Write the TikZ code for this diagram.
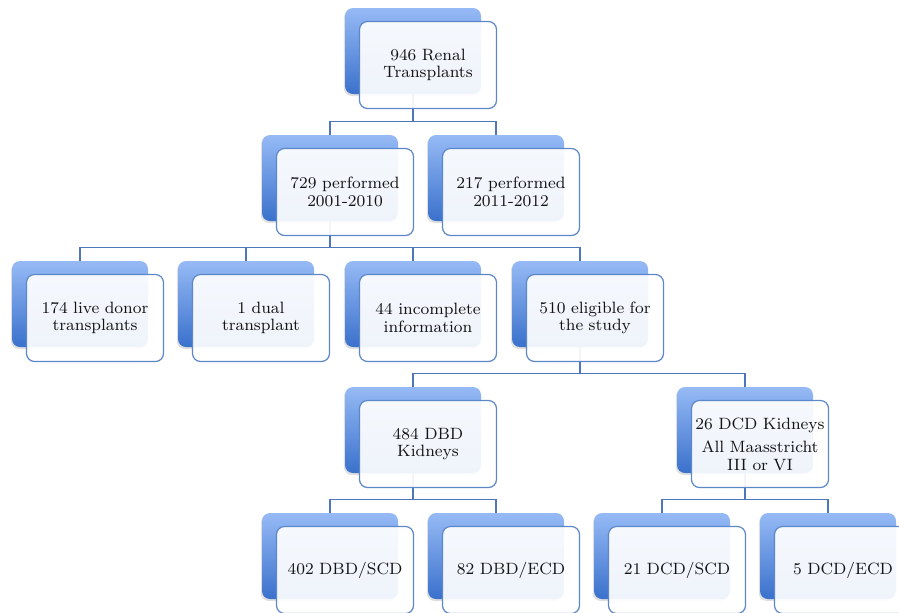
\documentclass[tikz,border=0pt]{standalone}
\usepackage[]{tikz}
\usepackage[]{xcolor}
\usetikzlibrary{shadows}
\definecolor{boxtop}{RGB}{150,186,245}
\definecolor{boxbottom}{RGB}{58,113,204}
\definecolor{boxline}{RGB}{92,135,200}
\definecolor{linkblue}{RGB}{78,118,186}
\definecolor{textgray}{RGB}{20,20,20}
\tikzset{backbox/.style = {rounded corners=4pt, top color=boxtop, bottom color=boxbottom, minimum width=68pt, minimum height=43pt, inner sep=0pt, drop shadow={opacity=0.25, shadow xshift=-0.6pt, shadow yshift=-1pt}}}
\tikzset{frontbox/.style = {rounded corners=4pt, draw=boxline, line width=0.6pt, fill=white, fill opacity=0.92, text opacity=1, text=textgray, minimum width=68.5pt, minimum height=43.5pt, text width=68pt, align=center, inner sep=0pt, font=\fontsize{8.2}{8.8}\selectfont}}
\tikzset{link/.style = {draw=linkblue, line width=0.6pt}}

\begin{document}
\begin{tikzpicture}[x=0.5pt,y=-0.5pt]
        \useasboundingbox (0,0) rectangle (899,612);
        % blue boxes behind
        \foreach \n/\x/\y in {renal/413/51, early/330/178, late/496/178,
                live/80/304, dual/246/304, incomplete/413/304, eligible/580/304,
                dbd/413/430, dcd/745/430,
                dbdscd/330/556, dbdecd/496/556, dcdscd/662/556, dcdecd/828/556}
            \node[backbox] (\n) at (\x,\y) {};
        % connectors
        \draw[link] (renal.south) |- ([yshift=6.5pt]early.north) -- (early.north);
        \draw[link] (renal.south) |- ([yshift=6.5pt]late.north) -- (late.north);
        \foreach \c in {live, dual, incomplete, eligible}
            \draw[link] (early.south) |- ([yshift=6.5pt]\c.north) -- (\c.north);
        \foreach \c in {dbd, dcd}
            \draw[link] (eligible.south) |- ([yshift=6.5pt]\c.north) -- (\c.north);
        \foreach \c in {dbdscd, dbdecd}
            \draw[link] (dbd.south) |- ([yshift=6.5pt]\c.north) -- (\c.north);
        \foreach \c in {dcdscd, dcdecd}
            \draw[link] (dcd.south) |- ([yshift=6.5pt]\c.north) -- (\c.north);
        % white boxes in front
        \node[frontbox] (renal-t) at ([xshift=7.5pt,yshift=-7pt]renal.center) {946 Renal\\Transplants};
        \node[frontbox] (early-t) at ([xshift=7.5pt,yshift=-7pt]early.center) {729 performed\\2001-2010};
        \node[frontbox] (late-t) at ([xshift=7.5pt,yshift=-7pt]late.center) {217 performed\\2011-2012};
        \node[frontbox] (live-t) at ([xshift=7.5pt,yshift=-7pt]live.center) {174 live donor\\transplants};
        \node[frontbox] (dual-t) at ([xshift=7.5pt,yshift=-7pt]dual.center) {1 dual\\transplant};
        \node[frontbox] (incomplete-t) at ([xshift=7.5pt,yshift=-7pt]incomplete.center) {44 incomplete\\information};
        \node[frontbox] (eligible-t) at ([xshift=7.5pt,yshift=-7pt]eligible.center) {510 eligible for\\the study};
        \node[frontbox] (dbd-t) at ([xshift=7.5pt,yshift=-7pt]dbd.center) {484 DBD\\Kidneys};
        \node[frontbox] (dcd-t) at ([xshift=7.5pt,yshift=-7pt]dcd.center) {26 DCD Kidneys\\[3pt]All Maasstricht\\III or VI};
        \node[frontbox] (dbdscd-t) at ([xshift=7.5pt,yshift=-7pt]dbdscd.center) {402 DBD/SCD};
        \node[frontbox] (dbdecd-t) at ([xshift=7.5pt,yshift=-7pt]dbdecd.center) {82 DBD/ECD};
        \node[frontbox] (dcdscd-t) at ([xshift=7.5pt,yshift=-7pt]dcdscd.center) {21 DCD/SCD};
        \node[frontbox] (dcdecd-t) at ([xshift=7.5pt,yshift=-7pt]dcdecd.center) {5 DCD/ECD};
    \end{tikzpicture}
\end{document}
